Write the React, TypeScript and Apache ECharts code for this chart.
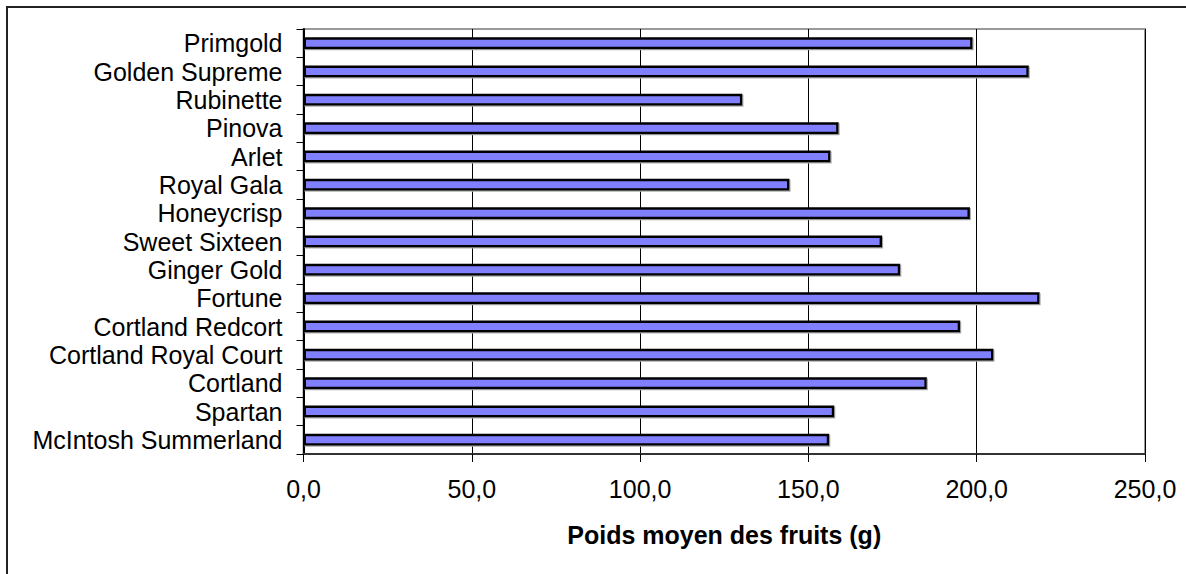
import React, { useEffect, useRef } from "react";
import * as echarts from "echarts";

const categories = [
  "Primgold",
  "Golden Supreme",
  "Rubinette",
  "Pinova",
  "Arlet",
  "Royal Gala",
  "Honeycrisp",
  "Sweet Sixteen",
  "Ginger Gold",
  "Fortune",
  "Cortland Redcort",
  "Cortland Royal Court",
  "Cortland",
  "Spartan",
  "McIntosh Summerland",
];

const weights = [
  198.8, 215.5, 130.4, 159.0, 156.6, 144.4, 198.0, 171.9, 177.3, 218.7, 195.1,
  205.0, 185.2, 157.7, 156.2,
];

const xTicks = [0, 50, 100, 150, 200, 250];
const xTitle = "Poids moyen des fruits (g)";

const FONT = "'Liberation Sans', Arial, sans-serif";

export default function App() {
  const ref = useRef<HTMLDivElement>(null);

  useEffect(() => {
    if (!ref.current) return;
    const chart = echarts.init(ref.current, null, { renderer: "svg" });
    chart.setOption({
      animation: false,
      backgroundColor: "#ffffff",
      graphic: [
        {
          type: "rect",
          shape: { x: 7, y: 7, width: 1300, height: 700 },
          style: { fill: "none", stroke: "#222", lineWidth: 2 },
          silent: true,
          z: -10,
        },
      ],
      grid: {
        left: 303.5,
        right: 41,
        top: 29,
        bottom: 120,
        show: true,
        borderColor: "#999",
        borderWidth: 2,
        backgroundColor: "#fff",
      },
      xAxis: {
        type: "value",
        min: xTicks[0],
        max: xTicks[xTicks.length - 1],
        interval: xTicks[1] - xTicks[0],
        name: xTitle,
        nameLocation: "middle",
        nameGap: 68,
        nameTextStyle: {
          fontFamily: FONT,
          fontSize: 25,
          fontWeight: "bold",
          color: "#000",
        },
        axisLine: { show: true, lineStyle: { color: "#333", width: 2 } },
        axisTick: {
          show: true,
          length: 8,
          lineStyle: { color: "#000", width: 1 },
        },
        axisLabel: {
          fontFamily: FONT,
          fontSize: 25,
          color: "#000",
          margin: 22,
          formatter: (v: number) => v.toFixed(1).replace(".", ","),
        },
        splitLine: {
          show: true,
          lineStyle: { color: "#000", width: 1 },
        },
      },
      yAxis: {
        type: "category",
        data: categories,
        inverse: true,
        axisLine: { show: true, lineStyle: { color: "#000", width: 2 } },
        axisTick: {
          show: true,
          interval: 0,
          length: 7,
          lineStyle: { color: "#000", width: 1 },
        },
        axisLabel: {
          interval: 0,
          fontFamily: FONT,
          fontSize: 25,
          color: "#000",
          margin: 21,
        },
        splitLine: { show: false },
      },
      series: [
        {
          type: "bar",
          data: weights,
          barWidth: 12,
          itemStyle: {
            color: "#8080FF",
            borderColor: "#000",
            borderWidth: 2.5,
            shadowColor: "#aaa",
            shadowOffsetX: 1,
            shadowOffsetY: 1,
            shadowBlur: 0,
          },
        },
      ],
    });
    return () => chart.dispose();
  }, []);

  return (
    <div
      ref={ref}
      style={{
        position: "fixed",
        left: 0,
        top: 0,
        width: 1186,
        height: 574,
        background: "#fff",
      }}
    />
  );
}
